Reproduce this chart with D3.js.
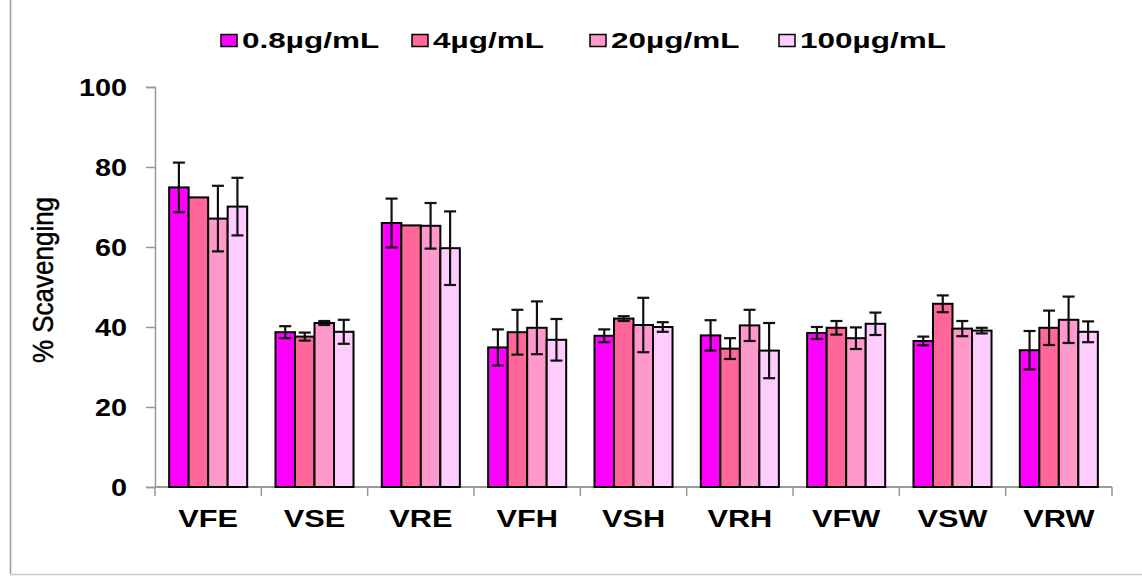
<!DOCTYPE html>
<html>
<head>
<meta charset="utf-8">
<script src="https://cdn.jsdelivr.net/npm/d3@7"></script>
<style>
  body { margin: 0; background: #fff; }
  text { font-family: Arial, "Liberation Sans", sans-serif; }
</style>
</head>
<body>
<div id="chart"></div>
<script>
// data
const groups = ["VFE", "VSE", "VRE", "VFH", "VSH", "VRH", "VFW", "VSW", "VRW"];
const series = ["0.8µg/mL", "4µg/mL", "20µg/mL", "100µg/mL"];
const colors = ["#ff00ff", "#ff6699", "#ff99cc", "#ffccff"];

const mean08 = [74.9, 38.7, 66.0, 34.9, 37.8, 37.9, 38.5, 36.5, 34.2];
const mean4 = [72.4, 37.6, 65.4, 38.7, 42.1, 34.6, 39.8, 45.8, 39.8];
const mean20 = [67.1, 41.0, 65.3, 39.8, 40.5, 40.4, 37.2, 39.6, 41.8];
const mean100 = [70.1, 38.8, 59.7, 36.8, 40.0, 34.1, 40.8, 39.1, 38.8];

const err08 = [6.2, 1.5, 6.1, 4.5, 1.6, 3.8, 1.5, 1.1, 4.8];
const err4 = [0, 1.0, 0, 5.6, 0.6, 2.6, 1.7, 2.1, 4.3];
const err20 = [8.2, 0.5, 5.7, 6.6, 6.8, 3.9, 2.7, 1.9, 5.8];
const err100 = [7.2, 3.0, 9.2, 5.2, 1.2, 6.9, 2.8, 0.7, 2.6];

const yTicks = [0, 20, 40, 60, 80, 100];

const means = [mean08, mean4, mean20, mean100];
const errs = [err08, err4, err20, err100];

const W = 1142, H = 576;

const svg = d3.select("#chart").append("svg")
  .attr("width", W)
  .attr("height", H);

// frame on the left and bottom
svg.append("line").attr("x1", 10.5).attr("x2", 10.5).attr("y1", 0).attr("y2", 574)
  .attr("stroke", "#999").attr("stroke-width", 1.5);
svg.append("line").attr("x1", 10).attr("x2", W).attr("y1", 574.5).attr("y2", 574.5)
  .attr("stroke", "#ccc").attr("stroke-width", 1.5);

const x0 = d3.scaleBand()
  .domain(groups)
  .range([155, 1112])
  .paddingInner(0.266)
  .paddingOuter(0.133);

const x1 = d3.scaleBand()
  .domain(d3.range(series.length))
  .range([0, x0.bandwidth()]);

const y = d3.scaleLinear()
  .domain([0, 100])
  .range([487, 87]);

// the picture is stretched sideways, so text gets a horizontal scale
function stretchText(sel, x, yy, anchor, sx) {
  return sel.append("text")
    .attr("transform", `translate(${x},${yy}) scale(${sx},1)`)
    .attr("text-anchor", anchor);
}

// y axis
const yAxis = svg.append("g")
  .attr("transform", "translate(155,0)")
  .call(d3.axisLeft(y).tickValues(yTicks).tickSize(9).tickFormat(""));
yAxis.selectAll("line, path").attr("stroke", "#999").attr("stroke-width", 1.5);

yTicks.forEach(t => {
  stretchText(svg, 127, y(t) + 8.5, "end", 1.2)
    .attr("font-size", 24).attr("font-weight", "bold")
    .text(t);
});

// y title
svg.append("text")
  .attr("transform", "translate(53,280) scale(1.15,1) rotate(-90)")
  .attr("text-anchor", "middle")
  .attr("font-size", 26)
  .attr("stroke", "#000")
  .attr("stroke-width", 0.4)
  .text("% Scavenging");

// x axis with ticks at the group edges
const step = x0.step();
const edges = groups.map(g => x0(g) - step * x0.paddingInner() / 2);
edges.push(edges[edges.length - 1] + step);

const xAxis = svg.append("g");
xAxis.append("line")
  .attr("x1", 155).attr("x2", edges[edges.length - 1])
  .attr("y1", y(0)).attr("y2", y(0))
  .attr("stroke", "#999").attr("stroke-width", 2);
xAxis.selectAll(".xt")
  .data(edges)
  .join("line")
  .attr("class", "xt")
  .attr("x1", d => d).attr("x2", d => d)
  .attr("y1", y(0)).attr("y2", y(0) + 9)
  .attr("stroke", "#999").attr("stroke-width", 1.5);

groups.forEach(g => {
  stretchText(svg, x0(g) + x0.bandwidth() / 2, 527, "middle", 1.28)
    .attr("font-size", 24).attr("font-weight", "bold")
    .text(g);
});

// bars
const rows = [];
groups.forEach((g, gi) => {
  series.forEach((s, si) => {
    rows.push({ g: g, si: si, v: means[si][gi], e: errs[si][gi] });
  });
});

svg.append("g")
  .selectAll("rect")
  .data(rows)
  .join("rect")
  .attr("x", d => x0(d.g) + x1(d.si))
  .attr("y", d => y(d.v))
  .attr("width", x1.bandwidth())
  .attr("height", d => y(0) - y(d.v))
  .attr("fill", d => colors[d.si])
  .attr("stroke", "#000")
  .attr("stroke-width", 2);

// error bars
const eb = svg.append("g").attr("stroke", "#111").attr("stroke-width", 2.2);
rows.filter(d => d.e > 0).forEach(d => {
  const cx = x0(d.g) + x1(d.si) + x1.bandwidth() / 2;
  const cap = 6;
  eb.append("line").attr("x1", cx).attr("x2", cx)
    .attr("y1", y(d.v + d.e)).attr("y2", y(d.v - d.e));
  eb.append("line").attr("x1", cx - cap).attr("x2", cx + cap)
    .attr("y1", y(d.v + d.e)).attr("y2", y(d.v + d.e));
  eb.append("line").attr("x1", cx - cap).attr("x2", cx + cap)
    .attr("y1", y(d.v - d.e)).attr("y2", y(d.v - d.e));
});

// legend
const legX = [221, 412, 590, 779];
series.forEach((s, i) => {
  svg.append("rect")
    .attr("x", legX[i]).attr("y", 34.5)
    .attr("width", 16).attr("height", 12)
    .attr("fill", colors[i])
    .attr("stroke", "#000").attr("stroke-width", 1.5);
  stretchText(svg, legX[i] + 21, 48, "start", 1.4)
    .attr("font-size", 22.5).attr("font-weight", "bold")
    .text(s);
});
</script>
</body>
</html>
